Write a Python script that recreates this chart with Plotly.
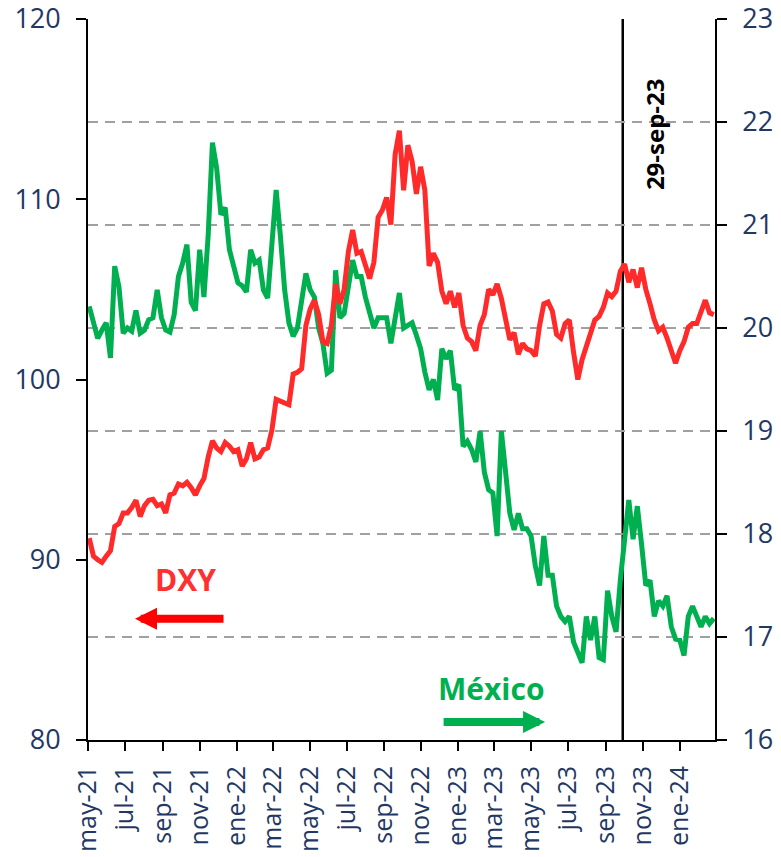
import pandas as pd
import plotly.graph_objects as go

# Weekly observations, May 2021 - Feb 2024
dates = pd.date_range("2021-05-03", periods=148, freq="7D")

# Peso mexicano por dólar (eje derecho)
mexico = [
    20.21, 20.05, 19.90, 19.98, 20.05, 19.71, 20.60, 20.40, 19.95, 20.00,
    19.97, 20.17, 19.95, 19.98, 20.08, 20.10, 20.37, 20.10, 19.98, 19.96,
    20.13, 20.50, 20.63, 20.81, 20.25, 20.17, 20.76, 20.30, 20.90, 21.80,
    21.55, 21.10, 21.17, 20.76, 20.60, 20.44, 20.41, 20.35, 20.76, 20.63,
    20.66, 20.37, 20.29, 20.76, 21.34, 20.89, 20.37, 20.05, 19.92, 20.00,
    20.24, 20.53, 20.37, 20.30, 20.00, 19.85, 19.56, 19.59, 20.56, 20.10,
    20.14, 20.44, 20.66, 20.50, 20.50, 20.30, 20.17, 20.00, 20.10, 20.10,
    20.10, 19.85, 20.07, 20.34, 20.00, 20.03, 20.05, 19.93, 19.80, 19.57,
    19.40, 19.50, 19.30, 19.80, 19.70, 19.78, 19.40, 19.45, 18.85, 18.90,
    18.82, 18.70, 19.00, 18.60, 18.43, 18.40, 17.98, 19.00, 18.60, 18.20,
    18.04, 18.20, 18.05, 18.05, 17.98, 17.69, 17.50, 17.98, 17.60, 17.60,
    17.30, 17.20, 17.15, 17.20, 16.95, 16.85, 16.75, 17.20, 16.97, 17.20,
    16.80, 16.78, 17.45, 17.20, 17.05, 17.55, 18.00, 18.33, 17.95, 18.27,
    17.90, 17.50, 17.55, 17.20, 17.35, 17.30, 17.40, 17.10, 16.98, 16.97,
    16.82, 17.20, 17.30, 17.20, 17.10, 17.20, 17.13, 17.18,
]

# Índice DXY (eje izquierdo)
dxy = [
    91.2, 90.2, 90.0, 89.85, 90.2, 90.5, 91.85, 92.0, 92.6, 92.6,
    92.9, 93.3, 92.4, 93.0, 93.3, 93.35, 93.0, 93.1, 92.6, 93.6,
    93.7, 94.2, 94.1, 94.3, 94.0, 93.6, 94.1, 94.5, 95.7, 96.6,
    96.2, 96.0, 96.5, 96.3, 96.0, 96.1, 95.2, 95.6, 96.5, 95.6,
    95.7, 96.1, 96.2, 97.2, 98.9, 98.8, 98.7, 98.6, 100.3, 100.4,
    100.6, 103.0, 103.9, 104.4, 103.6, 102.1, 102.0, 103.0, 105.3, 104.2,
    105.0, 107.1, 108.3, 107.0, 107.1, 106.4, 105.6, 106.5, 109.0, 109.4,
    110.1, 108.6, 112.5, 113.8, 110.5, 113.0, 112.1, 110.3, 111.8, 110.5,
    106.3, 107.0, 106.5, 104.9, 104.2, 104.9, 104.0, 104.8, 103.0, 102.3,
    102.1, 101.6, 103.0, 103.6, 105.0, 104.7, 105.3, 104.5, 103.2, 102.2,
    102.6, 101.4, 102.0, 101.7, 101.6, 101.3, 103.0, 104.2, 104.3, 103.8,
    102.5, 102.3, 103.1, 103.3, 101.5, 100.0, 101.1, 101.8, 102.6, 103.3,
    103.5, 104.0, 104.8, 104.6, 104.9, 106.0, 106.4, 105.4, 106.1, 105.1,
    106.2, 105.0, 104.2, 103.3, 102.7, 102.9, 102.3, 101.66, 100.9, 101.6,
    102.1, 102.9, 103.1, 103.1, 103.7, 104.4, 103.7, 103.6,
]

tick_dates = [
    "2021-05-01", "2021-07-01", "2021-09-01", "2021-11-01", "2022-01-01",
    "2022-03-01", "2022-05-01", "2022-07-01", "2022-09-01", "2022-11-01",
    "2023-01-01", "2023-03-01", "2023-05-01", "2023-07-01", "2023-09-01",
    "2023-11-01", "2024-01-01",
]
tick_labels = [
    "may-21", "jul-21", "sep-21", "nov-21", "ene-22", "mar-22", "may-22",
    "jul-22", "sep-22", "nov-22", "ene-23", "mar-23", "may-23", "jul-23",
    "sep-23", "nov-23", "ene-24",
]

event_date = "2023-09-29"
event_label = "29-sep-23"

GREEN = "#00B050"
RED = "#FF2A2A"
ARROW_RED = "#FF0000"
TEXT = "#1F3864"
FONT = "Open Sans"
tickfont = dict(family=FONT, size=27, color=TEXT)
xtickfont = dict(family=FONT, size=25, color=TEXT)

fig = go.Figure()
fig.add_trace(go.Scatter(
    x=dates, y=mexico, yaxis="y", mode="lines", name="México",
    line=dict(color=GREEN, width=5),
))
fig.add_trace(go.Scatter(
    x=dates, y=dxy, yaxis="y2", mode="lines", name="DXY",
    line=dict(color=RED, width=5),
))

fig.add_shape(
    type="line", xref="x", yref="paper",
    x0=event_date, x1=event_date, y0=0, y1=1,
    line=dict(color="black", width=2.5), layer="below",
)

annotations = [
    dict(text=event_label, xref="x", yref="paper", x=event_date, y=0.84,
         xanchor="center", yanchor="middle",
         xshift=32, textangle=-90, showarrow=False,
         font=dict(family=FONT, size=24, color="black", weight="bold")),
    dict(text="DXY", xref="paper", yref="paper", x=0.155, y=0.222,
         xanchor="center", yanchor="middle", showarrow=False,
         font=dict(family=FONT, size=30, color="#FF3030", weight="bold")),
    dict(text="", xref="paper", yref="paper", x=0.075, y=0.168,
         ax=90, ay=0, showarrow=True, arrowhead=2, arrowsize=0.55,
         arrowwidth=8, arrowcolor=ARROW_RED),
    dict(text="México", xref="paper", yref="paper", x=0.644, y=0.072,
         xanchor="center", yanchor="middle", showarrow=False,
         font=dict(family=FONT, size=30, color=GREEN, weight="bold")),
    dict(text="", xref="paper", yref="paper", x=0.729, y=0.025,
         ax=-103, ay=0, showarrow=True, arrowhead=2, arrowsize=0.55,
         arrowwidth=8, arrowcolor=GREEN),
]

fig.update_layout(
    width=781, height=857,
    margin=dict(l=88, r=66, t=19, b=117),
    paper_bgcolor="white", plot_bgcolor="white",
    showlegend=False,
    annotations=annotations,
    xaxis=dict(
        type="date", range=["2021-05-01", "2024-02-28"],
        tickmode="array", tickvals=tick_dates, ticktext=tick_labels,
        tickangle=-90, ticks="outside", ticklen=9, tickwidth=1.5,
        tickcolor="black", showline=True, linecolor="black", linewidth=1.75,
        showgrid=False, zeroline=False, tickfont=xtickfont,
        ticklabelstandoff=5, automargin=False, ticklabeloverflow="allow",
    ),
    yaxis=dict(
        range=[16, 23], dtick=1, side="right",
        showgrid=True, gridcolor="#A0A0A0", gridwidth=2, griddash="10px,7px",
        ticks="outside", ticklen=10, tickwidth=1.5, tickcolor="black",
        showline=True, linecolor="black", linewidth=1.75,
        zeroline=False, tickfont=tickfont, ticklabelstandoff=10,
        automargin=False, ticklabeloverflow="allow",
    ),
    yaxis2=dict(
        range=[80, 120], dtick=10, side="left", overlaying="y",
        showgrid=False, ticks="outside", ticklen=10, tickwidth=1.5,
        tickcolor="black", showline=True, linecolor="black", linewidth=1.75,
        zeroline=False, tickfont=tickfont, ticklabelstandoff=10,
        automargin=False, ticklabeloverflow="allow",
    ),
)

fig.write_html("out.html")
